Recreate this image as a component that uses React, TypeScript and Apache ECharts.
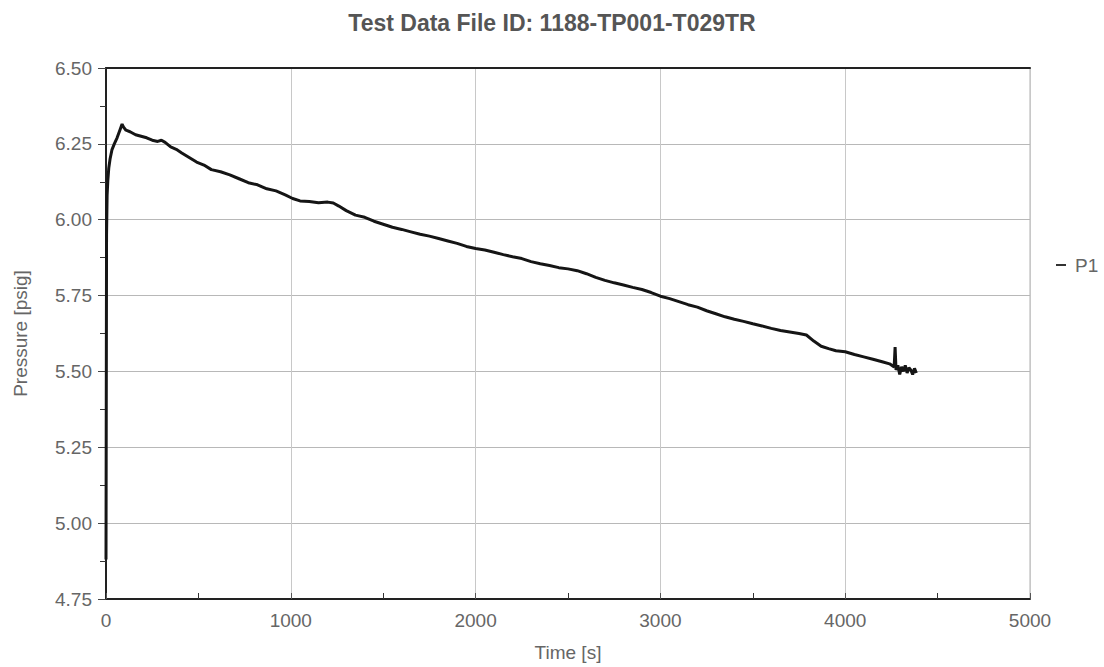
import React, { useEffect, useRef } from "react";
import * as echarts from "echarts";

const titleText = "Test Data File ID: 1188-TP001-T029TR";
const seriesName = "P1";
const xTicks = [0, 1000, 2000, 3000, 4000, 5000];
const yTicks = [4.75, 5.0, 5.25, 5.5, 5.75, 6.0, 6.25, 6.5];

const timeS = [
  0, 3, 6, 10, 15, 22, 32, 45, 60, 75, 87, 95, 108, 130, 160, 190, 220, 250, 280, 300,
  320, 350, 380, 410, 450, 490, 530, 570, 620, 670, 720, 770, 820, 870, 920, 970, 1010,
  1050, 1100, 1150, 1200, 1230, 1260, 1300, 1350, 1400, 1450, 1500, 1550, 1600, 1650,
  1700, 1750, 1800, 1850, 1900, 1950, 2000, 2050, 2100, 2150, 2200, 2250, 2300, 2350,
  2400, 2450, 2500, 2550, 2600, 2650, 2700, 2750, 2800, 2850, 2900, 2950, 3000, 3050,
  3100, 3150, 3200, 3250, 3300, 3350, 3400, 3450, 3500, 3550, 3600, 3650, 3700, 3750,
  3790, 3830, 3870, 3910, 3950, 4000, 4050, 4100, 4150, 4200, 4240, 4265, 4270, 4275,
  4285, 4295, 4305, 4315, 4325, 4335, 4345, 4355, 4365, 4375, 4385,
];

const pressure = [
  4.88, 5.95, 6.08, 6.13, 6.17, 6.2, 6.23, 6.25, 6.27, 6.295, 6.315, 6.305, 6.295, 6.29,
  6.28, 6.275, 6.27, 6.262, 6.258, 6.262, 6.255, 6.24, 6.232, 6.22, 6.205, 6.19, 6.18,
  6.165, 6.158, 6.148, 6.135, 6.122, 6.115, 6.102, 6.095, 6.082, 6.07, 6.062, 6.06, 6.056,
  6.058, 6.055, 6.045, 6.03, 6.015, 6.008, 5.995, 5.985, 5.975, 5.968, 5.96, 5.952, 5.946,
  5.938, 5.93, 5.922, 5.912, 5.905, 5.9, 5.893, 5.885, 5.878, 5.872, 5.862, 5.855, 5.849,
  5.842, 5.838, 5.832, 5.822, 5.81, 5.8, 5.792, 5.785, 5.777, 5.77, 5.76, 5.748, 5.74,
  5.73, 5.72, 5.712, 5.7, 5.69, 5.68, 5.672, 5.665, 5.657, 5.65, 5.642, 5.635, 5.63, 5.625,
  5.62, 5.6, 5.583, 5.575, 5.568, 5.565, 5.556, 5.548, 5.54, 5.532, 5.525, 5.515, 5.58,
  5.505, 5.52, 5.49, 5.515, 5.5, 5.52, 5.495, 5.512, 5.505, 5.49, 5.51, 5.495,
];

export default function App() {
  const ref = useRef<HTMLDivElement>(null);
  useEffect(() => {
    document.body.style.margin = "0";
    const chart = echarts.init(ref.current!, undefined, { renderer: "svg" });
    const labelColor = "#666";
    const font = "Arial, 'Liberation Sans', sans-serif";
    chart.setOption({
      animation: false,
      backgroundColor: "#fff",
      title: {
        text: titleText,
        left: "center",
        top: 6,
        textStyle: { fontFamily: font, fontSize: 23, fontWeight: "bold", color: "#555" },
      },
      grid: {
        left: 106,
        right: 74,
        top: 68,
        bottom: 66,
        show: true,
        borderColor: "#b0b0b0",
        borderWidth: 1,
      },
      graphic: [
        {
          type: "line",
          shape: { x1: 1056, y1: 265, x2: 1066, y2: 265 },
          style: { stroke: "#333", lineWidth: 2 },
        },
        {
          type: "text",
          x: 1075,
          y: 265,
          style: {
            text: seriesName,
            fill: labelColor,
            font: `19px ${font}`,
            verticalAlign: "middle",
          },
        },
      ],
      xAxis: [
        {
          type: "value",
          min: xTicks[0],
          max: xTicks[xTicks.length - 1],
          interval: 1000,
          name: "Time [s]",
          nameLocation: "middle",
          nameGap: 44,
          nameTextStyle: { fontFamily: font, fontSize: 19, color: labelColor },
          axisLine: { show: true, onZero: false, lineStyle: { color: "#222", width: 2 } },
          axisTick: { show: true, inside: true, length: 6, lineStyle: { color: "#555" } },
          minorTick: { show: true, splitNumber: 2, length: 6, lineStyle: { color: "#333" } },
          axisLabel: {
            fontFamily: font,
            fontSize: 19,
            color: labelColor,
            margin: 12,
            formatter: (v: number) => String(v),
          },
          splitLine: { show: true, lineStyle: { color: "#c8c8c8", width: 1 } },
        },
        {
          type: "value",
          position: "top",
          min: 0,
          max: 5000,
          interval: 1000,
          axisLine: { show: true, lineStyle: { color: "#222", width: 2 } },
          axisTick: { show: false },
          axisLabel: { show: false },
          splitLine: { show: false },
        },
      ],
      yAxis: {
        type: "value",
        min: yTicks[0],
        max: yTicks[yTicks.length - 1],
        interval: 0.25,
        name: "Pressure [psig]",
        nameLocation: "middle",
        nameGap: 76,
        nameTextStyle: { fontFamily: font, fontSize: 19, color: labelColor },
        axisLine: { show: true, onZero: false, lineStyle: { color: "#222", width: 2 } },
        axisTick: { show: true, length: 8, lineStyle: { color: "#444" } },
        minorTick: { show: true, splitNumber: 2, length: 6, lineStyle: { color: "#333" } },
        axisLabel: {
          fontFamily: font,
          fontSize: 19,
          color: labelColor,
          margin: 14,
          formatter: (v: number) => v.toFixed(2),
        },
        splitLine: { show: true, lineStyle: { color: "#b8b8b8", width: 1 } },
      },
      series: [
        {
          name: seriesName,
          type: "line",
          showSymbol: false,
          symbol: "none",
          lineStyle: { color: "#151515", width: 3 },
          data: timeS.map((t, i) => [t, pressure[i]]),
        },
      ],
    });
    return () => chart.dispose();
  }, []);
  return <div ref={ref} style={{ width: 1104, height: 667 }} />;
}
